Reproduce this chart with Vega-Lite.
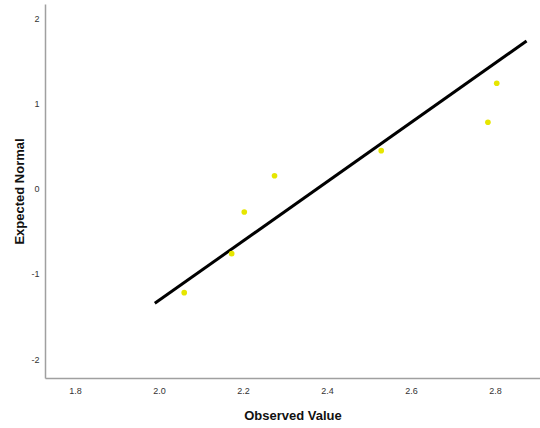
{
  "$schema": "https://vega.github.io/schema/vega-lite/v6.json",
  "autosize": "none",
  "width": 495,
  "height": 374,
  "padding": {"left": 45, "top": 4, "right": 0, "bottom": 50},
  "background": "white",
  "config": {
    "view": {"stroke": null},
    "axis": {
      "grid": false,
      "ticks": false,
      "domainColor": "#a0a0a0",
      "domainWidth": 1.5,
      "labelFont": "Liberation Sans",
      "labelFontSize": 9,
      "labelColor": "#333333",
      "titleColor": "#111111"
    }
  },
  "layer": [
    {
      "data": {"values": [
        {"observed": 1.990, "expected": -1.345},
        {"observed": 2.875, "expected": 1.741}
      ]},
      "mark": {"type": "line", "color": "black", "strokeWidth": 3, "clip": true},
      "encoding": {
        "x": {"field": "observed", "type": "quantitative"},
        "y": {"field": "expected", "type": "quantitative"}
      }
    },
    {
      "data": {"values": [
        {"observed": 2.06, "expected": -1.22},
        {"observed": 2.173, "expected": -0.761},
        {"observed": 2.203, "expected": -0.271},
        {"observed": 2.275, "expected": 0.156},
        {"observed": 2.529, "expected": 0.451},
        {"observed": 2.783, "expected": 0.785},
        {"observed": 2.804, "expected": 1.244}
      ]},
      "mark": {"type": "point", "shape": "circle", "filled": true, "size": 32, "color": "#e6e600", "opacity": 1},
      "encoding": {
        "x": {
          "field": "observed", "type": "quantitative",
          "scale": {"domain": [1.7286, 2.907], "nice": false, "zero": false},
          "axis": {"title": "Observed Value", "values": [1.8, 2.0, 2.2, 2.4, 2.6, 2.8], "format": ".1f",
                   "labelPadding": 8, "titleFont": "Liberation Sans", "titleFontSize": 13, "titleFontWeight": "bold", "titlePadding": 14}
        },
        "y": {
          "field": "expected", "type": "quantitative",
          "scale": {"domain": [-2.2235, 2.176], "nice": false, "zero": false},
          "axis": {"title": "Expected Normal", "values": [-2, -1, 0, 1, 2], "labelExpr": "'' + datum.value",
                   "labelPadding": 6, "titleFont": "Liberation Sans", "titleFontSize": 13, "titleFontWeight": "bold", "titlePadding": 4}
        }
      }
    }
  ]
}
